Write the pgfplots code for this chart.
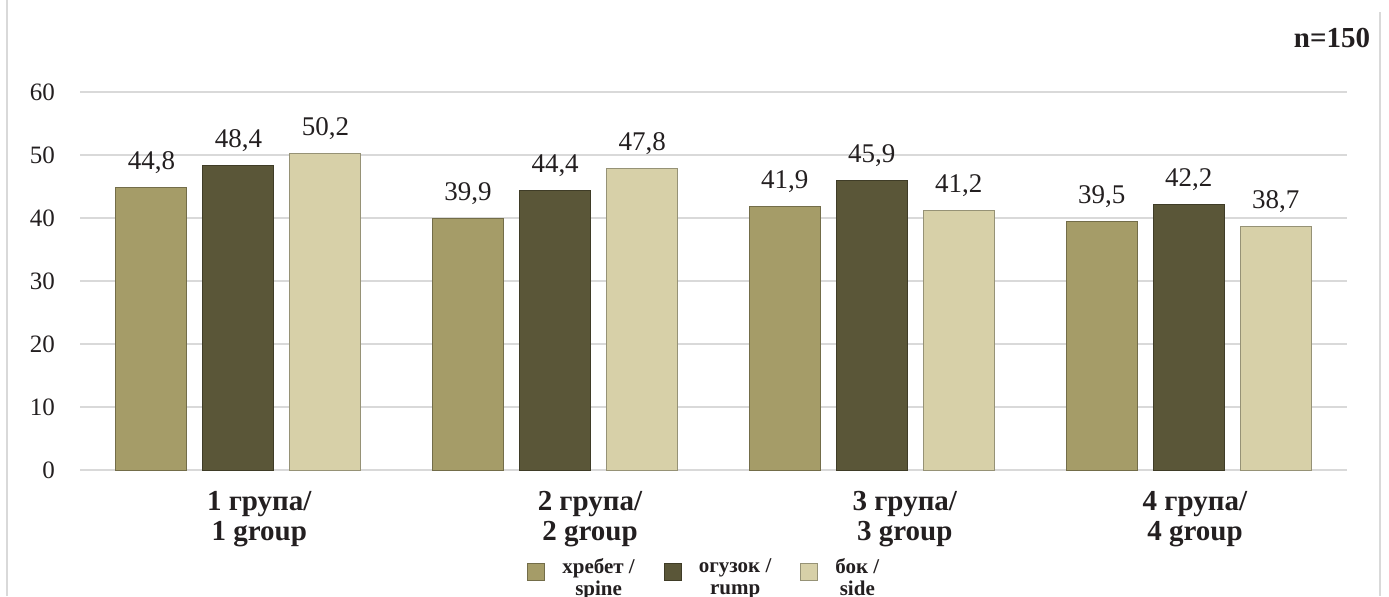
\documentclass[border=0pt]{standalone}
\usepackage{pgfplots}
\pgfplotsset{compat=1.18}
\usepackage{fontspec}
\setmainfont{Liberation Serif}
\definecolor{cA}{HTML}{A59C68}
\definecolor{cB}{HTML}{5A5638}
\definecolor{cC}{HTML}{D7D0A8}
\definecolor{txt}{HTML}{231F20}
\definecolor{gridc}{HTML}{D9D9D9}
\begin{document}
\begin{tikzpicture}[x=1pt,y=1pt]
\path[use as bounding box] (0,0) rectangle (694.5,298);
\draw[gridc, line width=1pt] (3.5,0) -- (3.5,298);
\draw[gridc, line width=1pt] (690,0) -- (690,292);
\node[anchor=base, font=\bfseries\fontsize{14.5}{16}\selectfont, text=txt] at (666,274) {n=150};
\begin{axis}[
  at={(40pt,63pt)}, anchor=south west,
  scale only axis, width=633.5pt, height=189pt,
  xmin=-0.5, xmax=3.5, ymin=0, ymax=60,
  ytick={0,10,...,60}, xtick=\empty,
  ymajorgrids, grid style={draw=gridc, line width=1pt},
  axis line style={draw=none}, major tick length=0pt,
  /pgf/number format/assume math mode=true,
  yticklabel style={font=\fontsize{12.5}{14}\selectfont, text=txt, xshift=-9pt},
  clip=false,
  nodes near coords={\pgfmathprintnumber[fixed,fixed zerofill,precision=1,use comma]{\pgfplotspointmeta}},
  nodes near coords style={anchor=base, yshift=9pt, font=\fontsize{13.5}{15}\selectfont, text=txt},
  legend columns=3,
  legend image code/.code={\fill[#1] (0pt,-1pt) rectangle (8.5pt,7.5pt);},
  legend style={at={(rel axis cs:0.3528,-0.233)}, anchor=north west, draw=none, fill=none,
    inner sep=0pt, font=\bfseries\fontsize{10.5}{11}\selectfont, text=txt,
    nodes={align=center, inner sep=0pt},
    column sep=14.5pt,
    /tikz/every odd column/.append style={column sep=8.5pt}},
]
\addplot[ybar, bar width=35.5pt, bar shift=-43.5pt, fill=cA, draw=cA!70!black, line width=0.5pt,
  every node near coord/.append style={xshift=-43.5pt}]
  coordinates {(0,44.8) (1,39.9) (2,41.9) (3,39.5)};
\addlegendentry{хребет /\\spine}
\addplot[ybar, bar width=35.5pt, bar shift=0pt, fill=cB, draw=cB!70!black, line width=0.5pt]
  coordinates {(0,48.4) (1,44.4) (2,45.9) (3,42.2)};
\addlegendentry{огузок /\\rump}
\addplot[ybar, bar width=35.5pt, bar shift=43.5pt, fill=cC, draw=cC!70!black, line width=0.5pt,
  every node near coord/.append style={xshift=43.5pt}]
  coordinates {(0,50.2) (1,47.8) (2,41.2) (3,38.7)};
\addlegendentry{бок /\\side}
\begin{scope}[every node/.style={anchor=base, font=\bfseries\fontsize{14.5}{15}\selectfont, text=txt}]
\node[yshift=-20pt] at (axis cs:0.066,0) {1 група/};
\node[yshift=-35pt] at (axis cs:0.066,0) {1 group};
\node[yshift=-20pt] at (axis cs:1.11,0) {2 група/};
\node[yshift=-35pt] at (axis cs:1.11,0) {2 group};
\node[yshift=-20pt] at (axis cs:2.104,0) {3 група/};
\node[yshift=-35pt] at (axis cs:2.104,0) {3 group};
\node[yshift=-20pt] at (axis cs:3.02,0) {4 група/};
\node[yshift=-35pt] at (axis cs:3.02,0) {4 group};
\end{scope}
\end{axis}
\end{tikzpicture}
\end{document}
